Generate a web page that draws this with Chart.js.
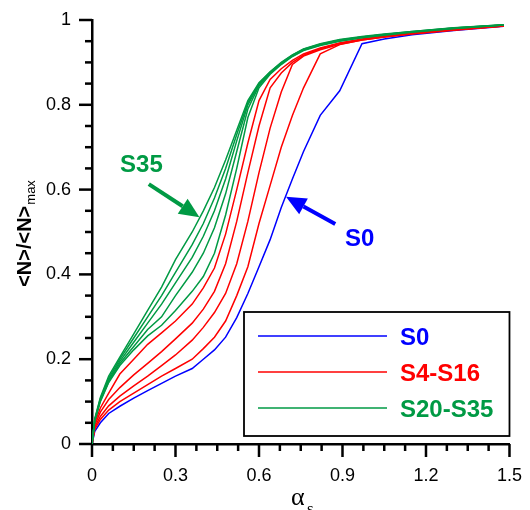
<!DOCTYPE html>
<html>
<head>
<meta charset="utf-8">
<script src="https://cdn.jsdelivr.net/npm/chart.js@4.4.1/dist/chart.umd.min.js"></script>
<style>
  html, body { margin: 0; padding: 0; background: #fff; }
</style>
</head>
<body>
<canvas id="chart" width="530" height="510"></canvas>
<script>
// alpha_s sample points shared by every curve
const alphaS = [0, 0.01, 0.03, 0.06, 0.1, 0.15, 0.2, 0.25, 0.3, 0.36, 0.4, 0.44, 0.48, 0.52, 0.56, 0.6, 0.64, 0.68, 0.72, 0.76, 0.82, 0.89, 0.97, 1.05, 1.15, 1.3, 1.48];

// <N>/<N>max for each system
const s0  = [0, 0.03, 0.05, 0.072, 0.089, 0.108, 0.126, 0.143, 0.16, 0.178, 0.2, 0.222, 0.252, 0.298, 0.355, 0.418, 0.482, 0.558, 0.625, 0.69, 0.775, 0.833, 0.944, 0.955, 0.965, 0.975, 0.985];
const s4  = [0, 0.035, 0.058, 0.08, 0.1, 0.12, 0.14, 0.16, 0.178, 0.2, 0.225, 0.252, 0.29, 0.35, 0.418, 0.52, 0.61, 0.7, 0.775, 0.84, 0.92, 0.942, 0.953, 0.96, 0.968, 0.977, 0.986];
const s8  = [0, 0.04, 0.065, 0.09, 0.113, 0.137, 0.16, 0.185, 0.21, 0.245, 0.275, 0.31, 0.355, 0.425, 0.525, 0.64, 0.745, 0.83, 0.895, 0.915, 0.93, 0.943, 0.953, 0.96, 0.967, 0.976, 0.986];
const s12 = [0, 0.045, 0.075, 0.105, 0.133, 0.163, 0.19, 0.218, 0.248, 0.285, 0.318, 0.36, 0.425, 0.525, 0.64, 0.75, 0.84, 0.875, 0.9, 0.917, 0.932, 0.945, 0.954, 0.961, 0.968, 0.977, 0.986];
const s16 = [0, 0.05, 0.085, 0.12, 0.165, 0.2, 0.235, 0.262, 0.29, 0.33, 0.368, 0.415, 0.495, 0.6, 0.71, 0.81, 0.86, 0.885, 0.905, 0.92, 0.934, 0.946, 0.955, 0.962, 0.969, 0.978, 0.987];
const s20 = [0, 0.055, 0.1, 0.145, 0.185, 0.222, 0.255, 0.28, 0.315, 0.36, 0.395, 0.45, 0.54, 0.65, 0.77, 0.84, 0.872, 0.895, 0.914, 0.928, 0.94, 0.95, 0.958, 0.964, 0.971, 0.98, 0.988];
const s24 = [0, 0.056, 0.102, 0.147, 0.19, 0.23, 0.27, 0.3, 0.35, 0.405, 0.45, 0.51, 0.59, 0.69, 0.79, 0.845, 0.874, 0.897, 0.915, 0.929, 0.941, 0.951, 0.959, 0.965, 0.972, 0.98, 0.988];
const s28 = [0, 0.057, 0.104, 0.15, 0.195, 0.24, 0.285, 0.33, 0.38, 0.44, 0.49, 0.55, 0.625, 0.715, 0.8, 0.848, 0.876, 0.898, 0.916, 0.93, 0.942, 0.952, 0.96, 0.966, 0.972, 0.981, 0.988];
const s32 = [0, 0.058, 0.107, 0.155, 0.2, 0.25, 0.3, 0.35, 0.405, 0.47, 0.52, 0.58, 0.65, 0.73, 0.805, 0.85, 0.877, 0.899, 0.917, 0.931, 0.943, 0.953, 0.96, 0.966, 0.973, 0.981, 0.989];
const s35 = [0, 0.06, 0.11, 0.16, 0.205, 0.26, 0.315, 0.37, 0.435, 0.5, 0.55, 0.605, 0.67, 0.74, 0.81, 0.852, 0.878, 0.9, 0.918, 0.932, 0.944, 0.954, 0.961, 0.967, 0.973, 0.982, 0.989];

const xMajorStep = 0.3;
const yMajorStep = 0.2;

const BLUE = '#0000ff';
const RED = '#ff0000';
const GREEN = '#009a44';
const FONT = '"Liberation Sans", Arial, Helvetica, sans-serif';

const toPoints = ys => alphaS.map((a, i) => ({ x: a, y: ys[i] }));
const series = (label, ys, color) => ({
  label, data: toPoints(ys), borderColor: color, borderWidth: 1.5,
  pointRadius: 0, tension: 0, fill: false
});

// first dataset is painted last, so greens sit on top
const datasets = [
  series('S35', s35, GREEN), series('S32', s32, GREEN), series('S28', s28, GREEN),
  series('S24', s24, GREEN), series('S20', s20, GREEN),
  series('S16', s16, RED), series('S12', s12, RED), series('S8', s8, RED), series('S4', s4, RED),
  series('S0', s0, BLUE)
];

const legendRows = [
  { text: 'S0', color: BLUE },
  { text: 'S4-S16', color: RED },
  { text: 'S20-S35', color: GREEN }
];

// callout labels with arrows, in data units
const callouts = [
  { text: 'S35', color: GREEN, tx: 0.1775, ty: 0.642, from: [0.204, 0.613], to: [0.386, 0.535] },
  { text: 'S0', color: BLUE, tx: 0.962, ty: 0.467, from: [0.874, 0.519], to: [0.697, 0.583] }
];

function isMajor(v, step) {
  const r = Math.round(v / step);
  return Math.abs(v - r * step) < 1e-6;
}
function majorLabel(v, step) {
  if (!isMajor(v, step)) return '';
  return String(+(Math.round(v / step) * step).toFixed(1));
}

function arrow(ctx, x1, y1, x2, y2, color) {
  const ang = Math.atan2(y2 - y1, x2 - x1);
  const headLen = 20, headHalf = 9;
  const bx = x2 - headLen * Math.cos(ang), by = y2 - headLen * Math.sin(ang);
  ctx.strokeStyle = color;
  ctx.fillStyle = color;
  ctx.lineWidth = 4;
  ctx.beginPath();
  ctx.moveTo(x1, y1);
  ctx.lineTo(bx, by);
  ctx.stroke();
  ctx.beginPath();
  ctx.moveTo(x2, y2);
  ctx.lineTo(bx + headHalf * Math.sin(ang), by - headHalf * Math.cos(ang));
  ctx.lineTo(bx - headHalf * Math.sin(ang), by + headHalf * Math.cos(ang));
  ctx.closePath();
  ctx.fill();
}

const decor = {
  id: 'decor',
  afterDatasetsDraw(chart) {
    const { ctx, chartArea: a, scales: { x, y } } = chart;
    ctx.save();

    // legend box in the lower right corner
    const left = a.left + 152, top = a.top + 292, right = a.right, bottom = a.bottom - 8;
    ctx.fillStyle = '#fff';
    ctx.fillRect(left, top, right - left, bottom - top);
    ctx.strokeStyle = '#000';
    ctx.lineWidth = 1.8;
    ctx.strokeRect(left, top, right - left, bottom - top);
    legendRows.forEach((row, i) => {
      const ry = top + 24 + i * 36;
      ctx.strokeStyle = row.color;
      ctx.lineWidth = 1.5;
      ctx.beginPath();
      ctx.moveTo(left + 14, ry);
      ctx.lineTo(left + 143, ry);
      ctx.stroke();
      ctx.fillStyle = row.color;
      ctx.font = 'bold 24px ' + FONT;
      ctx.textBaseline = 'alphabetic';
      ctx.textAlign = 'left';
      ctx.fillText(row.text, left + 156, ry + 8.5);
    });

    // callouts
    callouts.forEach(c => {
      ctx.fillStyle = c.color;
      ctx.font = 'bold 24px ' + FONT;
      ctx.textAlign = 'center';
      ctx.textBaseline = 'alphabetic';
      ctx.fillText(c.text, x.getPixelForValue(c.tx), y.getPixelForValue(c.ty));
      arrow(ctx,
        x.getPixelForValue(c.from[0]), y.getPixelForValue(c.from[1]),
        x.getPixelForValue(c.to[0]), y.getPixelForValue(c.to[1]), c.color);
    });
    ctx.restore();
  },
  afterDraw(chart) {
    const { ctx, chartArea: a, scales: { x, y } } = chart;
    ctx.save();
    ctx.strokeStyle = '#000';
    ctx.lineWidth = 2.5;

    // outward tick marks, long on labelled values
    x.ticks.forEach(t => {
      const px = x.getPixelForValue(t.value);
      const len = isMajor(t.value, xMajorStep) ? 13 : 7;
      ctx.beginPath();
      ctx.moveTo(px, a.bottom);
      ctx.lineTo(px, a.bottom + len);
      ctx.stroke();
    });
    y.ticks.forEach(t => {
      const py = y.getPixelForValue(t.value);
      const len = isMajor(t.value, yMajorStep) ? 13 : 7;
      ctx.beginPath();
      ctx.moveTo(a.left, py);
      ctx.lineTo(a.left - len, py);
      ctx.stroke();
    });

    // y title: <N>/<N>max, rotated
    ctx.fillStyle = '#000';
    ctx.translate(31, (a.top + a.bottom) / 2 + 2);
    ctx.rotate(-Math.PI / 2);
    ctx.textBaseline = 'alphabetic';
    ctx.textAlign = 'left';
    ctx.font = 'bold 20px ' + FONT;
    const main = '<N>/<N>';
    const w1 = ctx.measureText(main).width;
    ctx.font = '13px ' + FONT;
    const w2 = ctx.measureText('max').width;
    const start = -(w1 + w2) / 2;
    ctx.font = 'bold 20px ' + FONT;
    ctx.fillText(main, start, 0);
    ctx.font = '13px ' + FONT;
    ctx.fillText('max', start + w1 + 1, 4);
    ctx.restore();

    // x title: alpha_s
    ctx.save();
    ctx.fillStyle = '#000';
    ctx.textAlign = 'left';
    ctx.textBaseline = 'alphabetic';
    ctx.font = '26px "Liberation Serif", "Times New Roman", serif';
    ctx.fillText('\u03b1', 291, 505);
    ctx.font = '17px "Liberation Serif", "Times New Roman", serif';
    ctx.fillText('s', 307, 514);
    ctx.restore();
  }
};

new Chart(document.getElementById('chart'), {
  type: 'line',
  data: { datasets },
  options: {
    responsive: false,
    animation: false,
    events: [],
    layout: { padding: { left: 0, right: 15, top: 20, bottom: 0 } },
    plugins: { legend: { display: false }, tooltip: { enabled: false } },
    scales: {
      x: {
        type: 'linear', min: 0, max: 1.5,
        afterFit: s => { s.height = 66; },
        grid: { drawOnChartArea: false, drawTicks: true, tickLength: 13, color: 'rgba(0,0,0,0)' },
        border: { display: true, color: '#000', width: 2.5 },
        ticks: {
          stepSize: 0.075, autoSkip: false, maxRotation: 0, padding: 8,
          color: '#000', font: { family: FONT, size: 18 },
          callback: v => majorLabel(v, xMajorStep)
        }
      },
      y: {
        type: 'linear', min: 0, max: 1,
        afterFit: s => { s.width = 92; },
        grid: { drawOnChartArea: false, drawTicks: true, tickLength: 13, color: 'rgba(0,0,0,0)' },
        border: { display: true, color: '#000', width: 2.5 },
        ticks: {
          stepSize: 0.05, autoSkip: false, padding: 8,
          color: '#000', font: { family: FONT, size: 18 },
          callback: v => majorLabel(v, yMajorStep)
        }
      }
    }
  },
  plugins: [decor]
});
</script>
</body>
</html>
